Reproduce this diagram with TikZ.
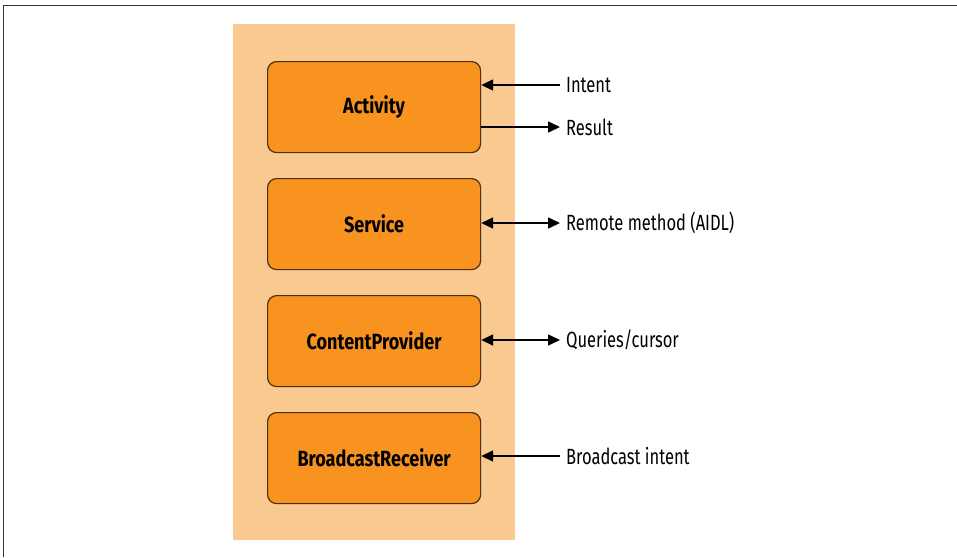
\documentclass[tikz,border=0pt]{standalone}
\usepackage{fontspec}
\setmainfont{Fira Sans}[FakeStretch=0.75]
\newfontfamily\compfont{Fira Sans}[FakeStretch=0.82, UprightFont=* Bold, BoldFont=* Bold]
\usetikzlibrary{arrows.meta}
\definecolor{panel}{HTML}{FAC98F}
\definecolor{boxfill}{HTML}{F7931E}
\definecolor{boxline}{HTML}{4A3210}
\tikzset{
  comp/.style={draw=boxline, line width=1.2pt, fill=boxfill, rounded corners=9pt,
    minimum width=213pt, minimum height=91pt, inner sep=0pt,
    font=\compfont\fontsize{22}{26}\selectfont, anchor=north west},
  lbl/.style={font=\fontsize{22}{26}\selectfont, anchor=west, inner sep=0pt},
  conn/.style={line width=1.6pt, -{Triangle[length=12pt,width=11pt]}},
  conn2/.style={line width=1.6pt, {Triangle[length=12pt,width=11pt]}-{Triangle[length=12pt,width=11pt]}}
}
\begin{document}
\begin{tikzpicture}[x=1pt,y=-1pt]
\useasboundingbox (0,0) rectangle (957,557);
\fill[white] (0,0) rectangle (957,557);
\draw[line width=1.5pt, black!80] (3.5,557) -- (3.5,5.5) -- (957,5.5);
\fill[panel] (233,24) rectangle (515,540);
\node[comp] (act) at (267,61) {Activity};
\node[comp] (srv) at (267,178) {Service};
\node[comp] (cp) at (267,295) {ContentProvider};
\node[comp] (br) at (267,412) {BroadcastReceiver};
\coordinate (intentEnd) at (560,85);
\coordinate (resultStart) at (480,127);
\coordinate (resultEnd) at (560,127);
\coordinate (srvEnd) at (560,223);
\coordinate (cpEnd) at (560,340);
\coordinate (brEnd) at (560,456);
\node[lbl] (intent) at (566,85) {Intent};
\node[lbl] (result) at (566,127) {Result};
\node[lbl] (rm) at (566,223) {Remote method (AIDL)};
\node[lbl] (qc) at (566,340) {Queries/cursor};
\node[lbl] (bi) at (566,456) {Broadcast intent};
\draw[conn] (intentEnd) -- (act.east |- intentEnd);
\draw[conn] (act.east |- resultStart) -- (resultEnd);
\draw[conn2] (srv.east |- srvEnd) -- (srvEnd);
\draw[conn2] (cp.east |- cpEnd) -- (cpEnd);
\draw[conn] (brEnd) -- (br.east |- brEnd);
\end{tikzpicture}
\end{document}
